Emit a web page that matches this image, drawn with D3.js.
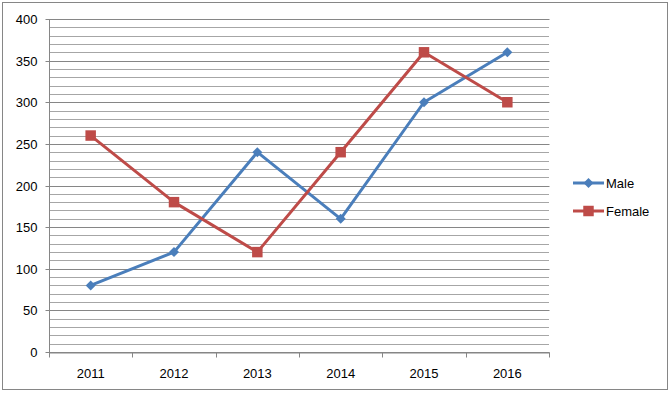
<!DOCTYPE html>
<html>
<head>
<meta charset="utf-8">
<script src="https://cdn.jsdelivr.net/npm/d3@7"></script>
<style>
  body { margin: 0; background: #fff; }
  svg text { font-family: "Liberation Sans", Arial, sans-serif; font-size: 13px; fill: #000; }
</style>
</head>
<body>
<div id="chart"></div>
<script>
// DATA //////////////////////////////////////////////////////////////////////
const years = ["2011", "2012", "2013", "2014", "2015", "2016"];
const maleValues = [80, 120, 240, 160, 300, 360];
const femaleValues = [260, 180, 120, 240, 360, 300];
const yTicks = [0, 50, 100, 150, 200, 250, 300, 350, 400];

(function() {
    const width = 672, height = 396;
    const plot = {left: 49, right: 549, top: 19, bottom: 352};

    const svg = d3.select("#chart").append("svg")
        .attr("width", width)
        .attr("height", height);

    // outer chart border
    svg.append("rect")
        .attr("x", 2.5).attr("y", 2.5)
        .attr("width", 665).attr("height", 387)
        .attr("fill", "#fff")
        .attr("stroke", "#868686");

    const x = d3.scaleBand().domain(years).range([plot.left, plot.right]);
    const y = d3.scaleLinear().domain([0, 400]).range([plot.bottom, plot.top]);

    // minor gridlines every 10
    const minor = d3.range(10, 400, 10).filter(v => v % 50 !== 0);
    svg.append("g").selectAll("line")
        .data(minor).enter().append("line")
        .attr("x1", plot.left).attr("x2", plot.right)
        .attr("y1", d => Math.round(y(d)) + 0.5).attr("y2", d => Math.round(y(d)) + 0.5)
        .attr("stroke", "#a6a6a6").attr("stroke-width", 1);

    // major gridlines + y axis
    const yAxis = d3.axisLeft(y).tickValues(yTicks)
        .tickSize(-(plot.right - plot.left)).tickPadding(12);
    const gy = svg.append("g")
        .attr("transform", `translate(${plot.left + 0.5},0)`)
        .call(yAxis);
    gy.select(".domain").remove();
    gy.selectAll(".tick line")
        .attr("x1", -4)
        .attr("stroke", "#868686");
    gy.selectAll(".tick").attr("transform", d => `translate(0,${Math.round(y(d)) + 0.5})`);

    // vertical axis line
    svg.append("line")
        .attr("x1", plot.left + 0.5).attr("x2", plot.left + 0.5)
        .attr("y1", plot.top).attr("y2", plot.bottom + 0.5)
        .attr("stroke", "#868686");

    // x axis
    const xAxis = d3.axisBottom(x).tickSize(0).tickPadding(16);
    const gx = svg.append("g")
        .attr("transform", `translate(0,${plot.bottom + 0.5})`)
        .call(xAxis);
    gx.select(".domain").attr("stroke", "#868686");
    const bounds = years.map(d => x(d)).concat([plot.right]);
    gx.selectAll(".bound").data(bounds).enter().append("line")
        .attr("x1", d => Math.round(d) + 0.5).attr("x2", d => Math.round(d) + 0.5)
        .attr("y1", 0).attr("y2", 5)
        .attr("stroke", "#868686");

    // series: diamond = square rotated 45deg
    const series = [
        {name: "Male", values: maleValues, color: "#4a7ebb", symbol: d3.symbolSquare, size: 50, rot: 45},
        {name: "Female", values: femaleValues, color: "#be4b48", symbol: d3.symbolSquare, size: 110, rot: 0}
    ];
    const line = d3.line()
        .x((d, i) => x(years[i]) + x.bandwidth() / 2)
        .y(d => y(d));

    series.forEach(s => {
        svg.append("path")
            .datum(s.values)
            .attr("fill", "none")
            .attr("stroke", s.color)
            .attr("stroke-width", 3)
            .attr("stroke-linejoin", "round")
            .attr("d", line);
        svg.append("g").selectAll("path")
            .data(s.values).enter().append("path")
            .attr("d", d3.symbol().type(s.symbol).size(s.size))
            .attr("transform", (d, i) => `translate(${x(years[i]) + x.bandwidth() / 2},${y(d)}) rotate(${s.rot})`)
            .attr("fill", s.color);
    });

    // legend
    const legend = svg.append("g");
    series.forEach((s, i) => {
        const ly = 183 + i * 28;
        legend.append("line")
            .attr("x1", 573).attr("x2", 604)
            .attr("y1", ly).attr("y2", ly)
            .attr("stroke", s.color).attr("stroke-width", 3);
        legend.append("path")
            .attr("d", d3.symbol().type(s.symbol).size(s.size))
            .attr("transform", `translate(588.5,${ly}) rotate(${s.rot})`)
            .attr("fill", s.color);
        legend.append("text")
            .attr("x", 606).attr("y", ly)
            .attr("dy", "0.35em")
            .text(s.name);
    });
})();
</script>
</body>
</html>
